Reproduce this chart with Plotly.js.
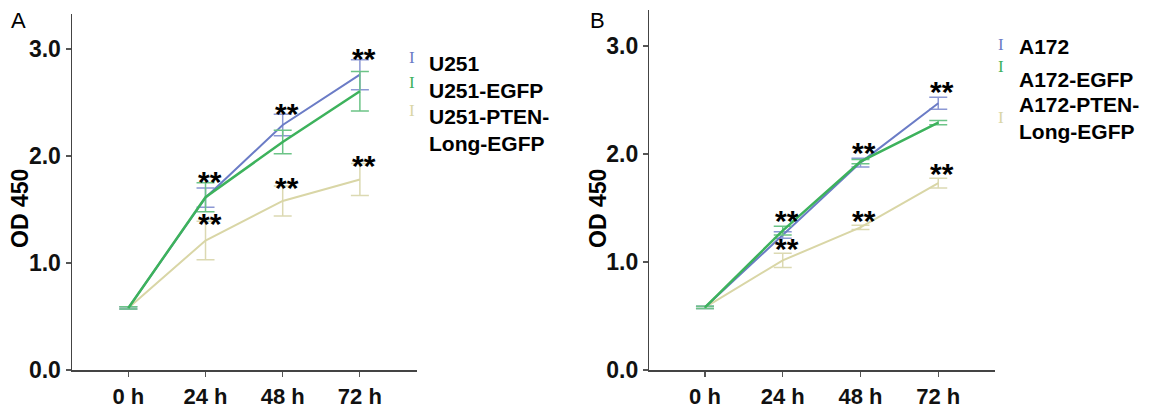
<!DOCTYPE html>
<html>
<head>
<meta charset="utf-8">
<script src="https://cdn.plot.ly/plotly-3.0.1.min.js"></script>
<style>html,body{margin:0;padding:0;background:#fff;}#chart{width:1163px;height:410px;}</style>
</head>
<body>
<div id="chart"></div>
<script>
// ---- data ----
const timeLabels = ["0 h", "24 h", "48 h", "72 h"];
const yTickVals = [0, 1, 2, 3];

const namesA = ["U251", "U251-EGFP", "U251-PTEN-Long-EGFP"];
const u251 = [0.58, 1.61, 2.29, 2.76];
const u251Err = [0.01, 0.09, 0.10, 0.14];
const u251EGFP = [0.58, 1.615, 2.13, 2.605];
const u251EGFPErr = [0.01, 0.135, 0.11, 0.185];
const u251PTEN = [0.58, 1.21, 1.58, 1.78];
const u251PTENErr = [0.01, 0.18, 0.14, 0.15];

const namesB = ["A172", "A172-EGFP", "A172-PTEN-Long-EGFP"];
const a172 = [0.58, 1.25, 1.92, 2.47];
const a172Err = [0.01, 0.03, 0.04, 0.055];
const a172EGFP = [0.58, 1.29, 1.93, 2.29];
const a172EGFPErr = [0.01, 0.04, 0.02, 0.02];
const a172PTEN = [0.58, 1.015, 1.32, 1.73];
const a172PTENErr = [0.01, 0.065, 0.02, 0.045];

const sigUpper = ["", "**", "**", "**"];
const sigLower = ["", "**", "**", "**"];

// ---- styles ----
const W = 1163, H = 410;
const lineColors = ["#6b7cc6", "#3db25c", "#d9d6a6"];
const errColors = ["#8c98d4", "#6cc487", "#dcd9b2"];
const lineWidths = [2, 2.5, 2];
const FONT = "Liberation Sans, Arial, Helvetica, sans-serif";
const px = v => v / W;
const py = v => 1 - v / H;

function series(y, err, i, xa, ya) {
  return {
    x: timeLabels, y: y, type: "scatter", mode: "lines",
    xaxis: xa, yaxis: ya, showlegend: false,
    line: {color: lineColors[i], width: lineWidths[i]},
    error_y: {type: "data", array: err, visible: true, color: errColors[i], thickness: 1.5, width: 9}
  };
}

const data = [
  series(u251PTEN, u251PTENErr, 2, "x", "y"),
  series(u251, u251Err, 0, "x", "y"),
  series(u251EGFP, u251EGFPErr, 1, "x", "y"),
  series(a172PTEN, a172PTENErr, 2, "x2", "y2"),
  series(a172, a172Err, 0, "x2", "y2"),
  series(a172EGFP, a172EGFPErr, 1, "x2", "y2")
];

const annotations = [];

function stars(groupTop, labels, xref, yref, shift) {
  labels.forEach((t, k) => {
    if (!t) return;
    annotations.push({
      x: timeLabels[k], y: groupTop[k], xref: xref, yref: yref,
      text: t, showarrow: false, xanchor: "center", yanchor: "middle",
      xshift: 4, yshift: shift,
      font: {family: FONT, size: 30, color: "#000", weight: 700}
    });
  });
}
function tops(arrs) {
  return timeLabels.map((_, k) => Math.max(...arrs.map(a => a[0][k] + a[1][k])));
}
stars(tops([[u251, u251Err], [u251EGFP, u251EGFPErr]]), sigUpper, "x", "y", 1);
stars(tops([[u251PTEN, u251PTENErr]]), sigLower, "x", "y", -2);
stars(tops([[a172, a172Err], [a172EGFP, a172EGFPErr]]), sigUpper, "x2", "y2", 6);
stars(tops([[a172PTEN, a172PTENErr]]), sigLower, "x2", "y2", 5);

function legend(names, symX, textX, symY, textY) {
  names.forEach((n, i) => {
    annotations.push({
      xref: "paper", yref: "paper", x: px(symX), y: py(symY[i]),
      text: "I", showarrow: false, xanchor: "center", yanchor: "middle",
      font: {family: "Liberation Serif, Times New Roman, serif", size: 17, color: lineColors[i]}
    });
    annotations.push({
      xref: "paper", yref: "paper", x: px(textX), y: py(textY[i]),
      text: n.replace("PTEN-", "PTEN-<br>"), showarrow: false, xanchor: "left", yanchor: "middle",
      align: "left",
      font: {family: FONT, size: 21, color: "#000", weight: 700}
    });
  });
}
legend(namesA, 412, 427, [57, 83, 110], [63, 91, 130]);
legend(namesB, 1001, 1017, [45, 66, 117], [47, 80, 117.5]);

// panel letters & y titles
annotations.push({xref: "paper", yref: "paper", x: px(18), y: py(20), text: "A", showarrow: false,
  xanchor: "center", yanchor: "middle", font: {family: FONT, size: 22, color: "#000"}});
annotations.push({xref: "paper", yref: "paper", x: px(597), y: py(20), text: "B", showarrow: false,
  xanchor: "center", yanchor: "middle", font: {family: FONT, size: 22, color: "#000"}});
[20, 598].forEach(x => annotations.push({
  xref: "paper", yref: "paper", x: px(x), y: py(209), text: "OD 450", textangle: -90, showarrow: false,
  xanchor: "center", yanchor: "middle",
  font: {family: FONT, size: 23, color: "#000", weight: 700}
}));

function xAxis(domain, range, anchor) {
  return {domain: domain, range: range, anchor: anchor, type: "category",
    showline: true, linecolor: "#444", linewidth: 1.5, showgrid: false, zeroline: false,
    ticks: "outside", ticklen: 5, tickwidth: 1.2, tickcolor: "#555", ticklabelstandoff: 1,
    tickfont: {family: FONT, size: 22, color: "#111", weight: 700}, fixedrange: true};
}
function yAxis(domain, range, anchor) {
  return {domain: domain, range: range, anchor: anchor,
    tickvals: yTickVals, tickformat: ".1f",
    showline: true, linecolor: "#444", linewidth: 1.5, showgrid: false, zeroline: false,
    ticks: "outside", ticklen: 5, tickwidth: 1.2, tickcolor: "#555",
    tickfont: {family: FONT, size: 23, color: "#111", weight: 700}, fixedrange: true};
}

const layout = {
  width: W, height: H, margin: {l: 0, r: 0, t: 0, b: 0},
  paper_bgcolor: "#fff", plot_bgcolor: "#fff", showlegend: false,
  xaxis: xAxis([px(72), px(417)], [-0.73, 3.74], "y"),
  yaxis: yAxis([1 - 370 / H, 1 - 14 / H], [0, 3.327], "x"),
  xaxis2: xAxis([px(649.3), px(995)], [-0.716, 3.73], "y2"),
  yaxis2: yAxis([1 - 370 / H, 1 - 10 / H], [0, 3.333], "x2"),
  annotations: annotations
};

Plotly.newPlot("chart", data, layout, {displayModeBar: false, staticPlot: true});
</script>
</body>
</html>
